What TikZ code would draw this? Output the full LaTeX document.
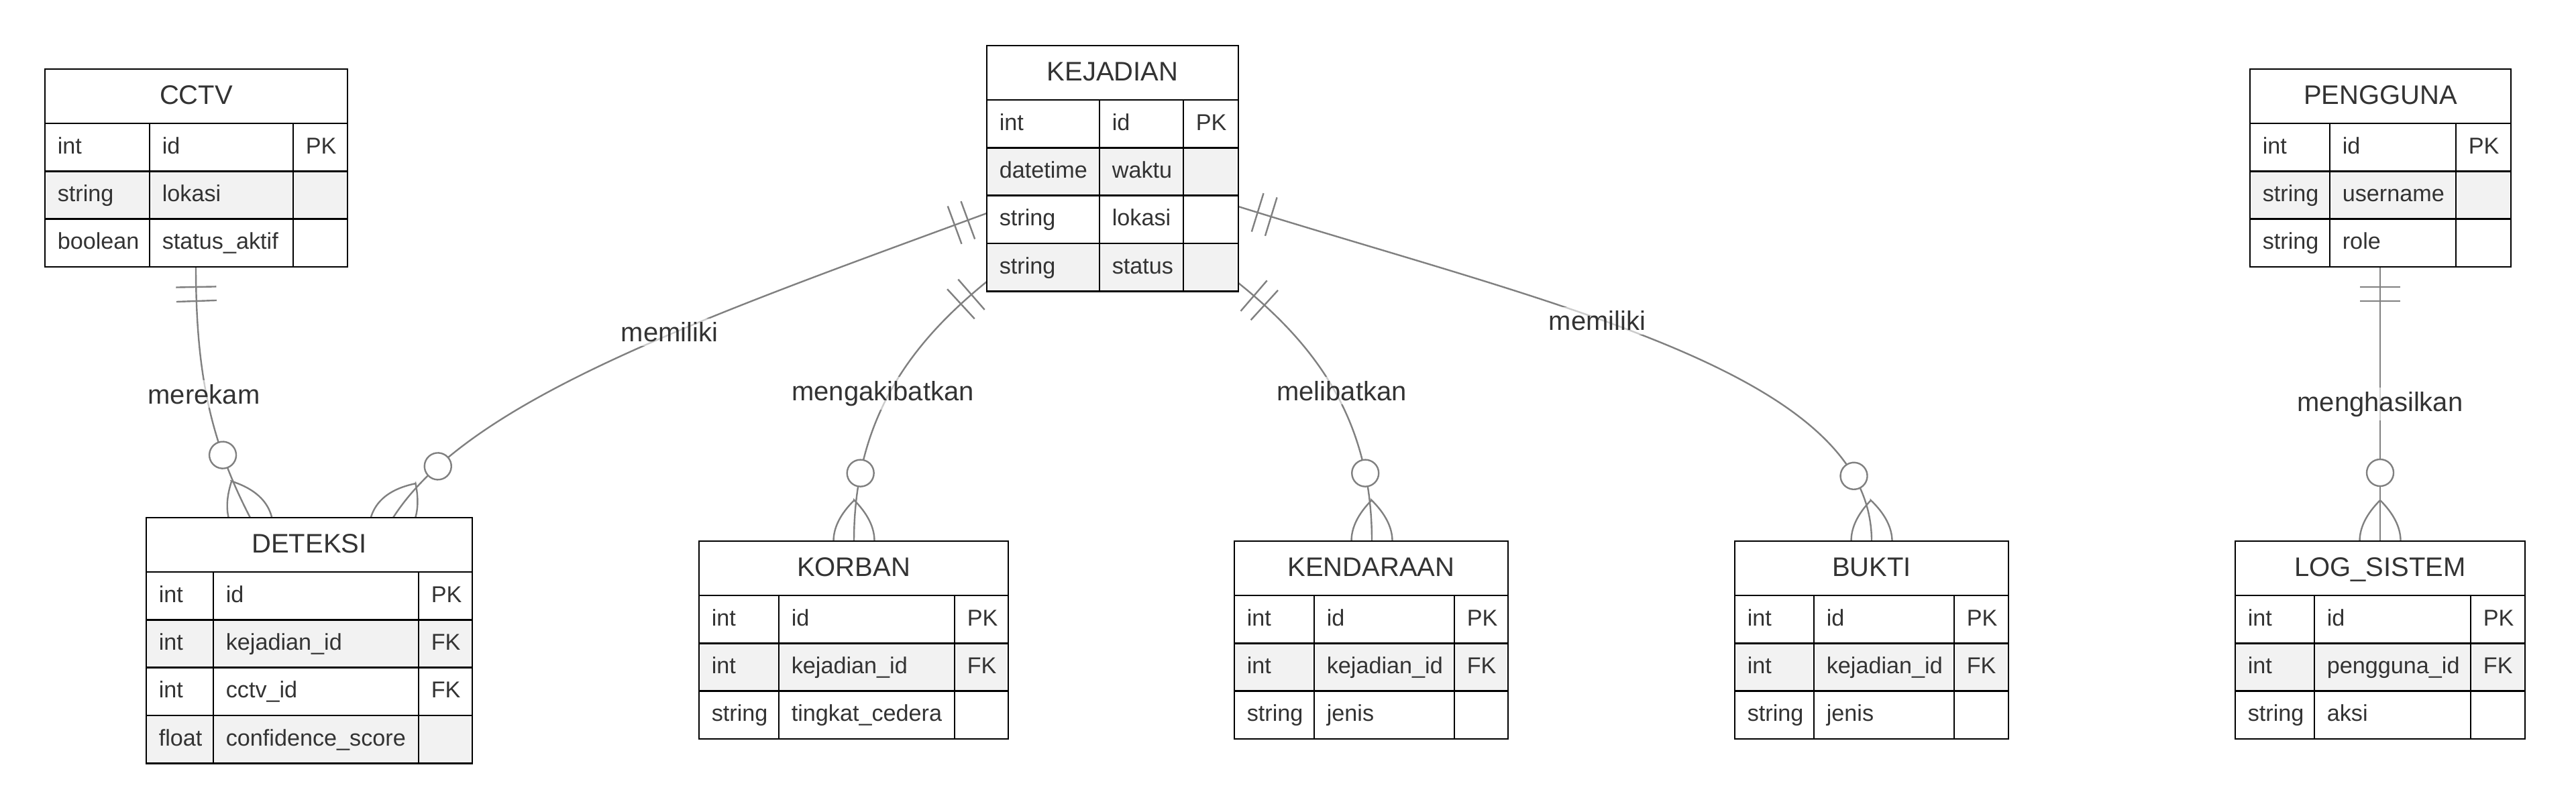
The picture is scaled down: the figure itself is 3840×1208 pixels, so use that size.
\documentclass[tikz,border=0pt]{standalone}
\usepackage{fontspec}
\setmainfont{Liberation Sans}
\usetikzlibrary{decorations.markings}
\definecolor{txtc}{HTML}{333333}
\definecolor{linkc}{HTML}{808080}
\definecolor{rowg}{HTML}{F2F2F2}
\tikzset{
  boxline/.style={draw=black, line width=0.7pt},
  attr/.style={anchor=base west, inner sep=0pt, text=txtc, font=\fontsize{8.55pt}{10pt}\selectfont},
  hdr/.style={anchor=base, inner sep=0pt, text=txtc, font=\fontsize{10pt}{12pt}\selectfont},
  lbl/.style={anchor=base, inner sep=1.5pt, text=txtc, fill=white, fill opacity=0.6, text opacity=1, font=\fontsize{10pt}{12pt}\selectfont},
  link/.style={draw=linkc, line width=0.6pt},
  rel/.style={link, postaction={decorate, decoration={markings,
     mark=at position 7.5pt with {\draw[link] (0,-7.5pt) -- (0,7.5pt);},
     mark=at position 12.75pt with {\draw[link] (0,-7.5pt) -- (0,7.5pt);},
     mark=at position -25.5pt with {\draw[link, fill=white] (0,0) circle (5pt);},
     mark=at position -1pt with {\draw[link] (-14.25pt,0) .. controls (-4.08pt,10.17pt) and (6.08pt,10.17pt) .. (16.25pt,0) .. controls (6.08pt,-10.17pt) and (-4.08pt,-10.17pt) .. cycle;}
  }}}
}
% #1 id, #2 title, #3 left, #4 top, #5 col1, #6 col2, #7 right, #8 rows, #9 number of rows
\newcommand{\ertable}[9]{%
  \pgfmathsetmacro{\erhb}{#4+81}%
  \pgfmathsetmacro{\erbot}{#4+81+#9*71.33}%
  \fill[white] (#3,#4) rectangle (#7,\erhb);
  \node[hdr] (#1-title) at ({(#3+#7)/2},#4+52.5) {#2};
  \foreach \ty/\nm/\ky [count=\i] in {#8} {
    \pgfmathsetmacro{\ra}{#4+81+(\i-1)*71.33}
    \ifodd\i\relax\def\rc{white}\else\def\rc{rowg}\fi
    \fill[fill=\rc] (#3,\ra) rectangle (#7,\ra+71.33);
    \node[attr] (#1-\i-a) at (#3+18,\ra+45.2) {\ty};
    \node[attr] (#1-\i-b) at (#5+18,\ra+45.2) {\nm};
    \node[attr] (#1-\i-c) at (#6+18,\ra+45.2) {\ky};
  }
  \foreach \j in {1,...,#9} {
    \draw[boxline] (#3,{#4+81+(\j-1)*71.33}) -- (#7,{#4+81+(\j-1)*71.33});
  }
  \draw[boxline] (#5,\erhb) -- (#5,\erbot) (#6,\erhb) -- (#6,\erbot);
  \draw[boxline] (#3,#4) rectangle (#7,\erbot);
}
\begin{document}
\begin{tikzpicture}[x=0.25pt, y=-0.25pt]
\fill[white] (0,0) rectangle (3840,1208);
\useasboundingbox (0,0) rectangle (3840,1208);
% connector end points on the entity edges
\coordinate (cctv-s) at (292,398);
\coordinate (det-n1) at (373,772);
\coordinate (kej-w1) at (1471,318);
\coordinate (det-n2) at (586,772);
\coordinate (kej-w2) at (1471,420);
\coordinate (kor-n) at (1273,807);
\coordinate (kej-e2) at (1846,422);
\coordinate (ken-n) at (2045,807);
\coordinate (kej-e1) at (1846,308);
\coordinate (buk-n) at (2790,807);
\coordinate (pen-s) at (3548,398);
\coordinate (log-n) at (3548,807);
% relationships
\draw[rel] (cctv-s) .. controls (292,560) and (315,660) .. (det-n1);
\draw[rel] (kej-w1) .. controls (1050,473) and (699,595) .. (det-n2);
\draw[rel] (kej-w2) .. controls (1355,514) and (1273,627) .. (kor-n);
\draw[rel] (kej-e2) .. controls (1962,515) and (2045,627) .. (ken-n);
\draw[rel] (kej-e1) .. controls (2323,457) and (2790,557) .. (buk-n);
\draw[rel] (pen-s) -- (log-n);
% labels
\node[lbl] (lab-merekam) at (304,602) {merekam};
\node[lbl] (lab-memiliki1) at (998,510) {memiliki};
\node[lbl] (lab-akibat) at (1316,597) {mengakibatkan};
\node[lbl] (lab-libat) at (2000,597) {melibatkan};
\node[lbl] (lab-memiliki2) at (2381,493) {memiliki};
\node[lbl] (lab-hasil) at (3548,613) {menghasilkan};
% entities
\ertable{cctv}{CCTV}{67}{103}{223}{437}{518}{int/id/PK, string/lokasi/{}, boolean/status\_aktif/{}}{3}
\ertable{kej}{KEJADIAN}{1471}{68}{1639}{1764}{1846}{int/id/PK, datetime/waktu/{}, string/lokasi/{}, string/status/{}}{4}
\ertable{det}{DETEKSI}{218}{772}{318}{624}{704}{int/id/PK, int/kejadian\_id/FK, int/cctv\_id/FK, float/confidence\_score/{}}{4}
\ertable{kor}{KORBAN}{1042}{807}{1161}{1423}{1503}{int/id/PK, int/kejadian\_id/FK, string/tingkat\_cedera/{}}{3}
\ertable{ken}{KENDARAAN}{1840}{807}{1959}{2168}{2248}{int/id/PK, int/kejadian\_id/FK, string/jenis/{}}{3}
\ertable{buk}{BUKTI}{2586}{807}{2704}{2913}{2994}{int/id/PK, int/kejadian\_id/FK, string/jenis/{}}{3}
\ertable{pen}{PENGGUNA}{3354}{103}{3473}{3661}{3743}{int/id/PK, string/username/{}, string/role/{}}{3}
\ertable{log}{LOG\_SISTEM}{3332}{807}{3450}{3683}{3764}{int/id/PK, int/pengguna\_id/FK, string/aksi/{}}{3}
\end{tikzpicture}
\end{document}
